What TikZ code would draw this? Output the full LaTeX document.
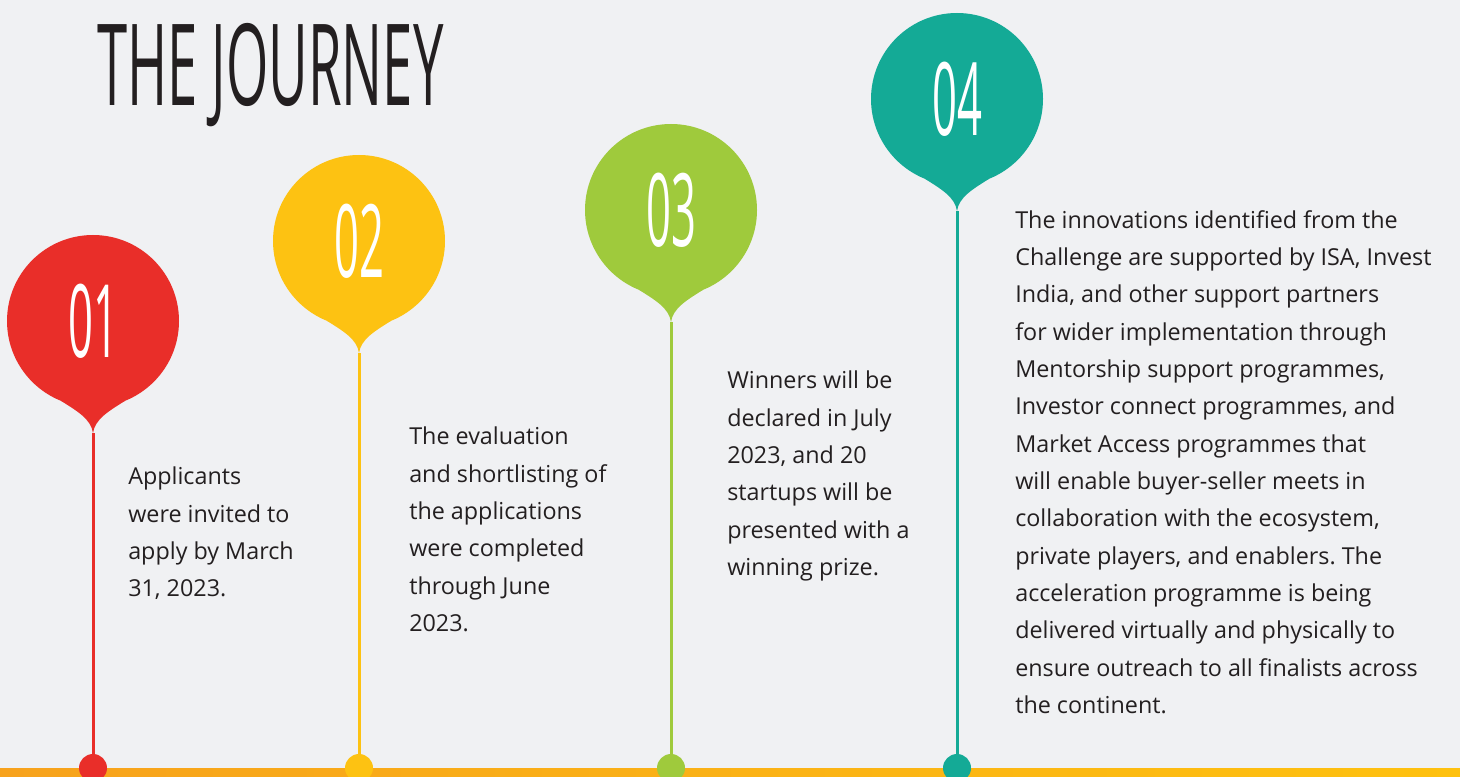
\documentclass[tikz,border=0pt]{standalone}
\usepackage{fontspec}
\setmainfont{Open Sans}
\newfontfamily\titlefont[FakeStretch=0.48]{Open Sans}
\newfontfamily\numfont[FakeStretch=0.43]{Open Sans}
\usetikzlibrary{positioning}
\frenchspacing

\definecolor{bgcol}{HTML}{F0F1F3}
\definecolor{ink}{HTML}{231F20}
\definecolor{pinred}{HTML}{E92E29}
\definecolor{pinyellow}{HTML}{FDC212}
\definecolor{pingreen}{HTML}{9FCA3C}
\definecolor{pinteal}{HTML}{14AA96}
\definecolor{barleft}{HTML}{F7A21C}
\definecolor{barright}{HTML}{FEC10F}

\tikzset{
  balloon/.style={circle, inner sep=0pt, minimum size=129pt, text=white,
    font=\numfont\fontsize{76pt}{76pt}\selectfont},
  knob/.style={circle, inner sep=0pt, minimum size=21pt},
  stemline/.style={line width=2.25pt},
  blurb/.style={anchor=north west, align=left, inner sep=0pt, text=ink,
    font=\fontsize{17.5pt}{28pt}\selectfont}
}

\begin{document}
\begin{tikzpicture}[x=0.75pt, y=0.75pt]
  \useasboundingbox (0,0) rectangle (1460,776);
  \fill[bgcol] (0,0) rectangle (1460,776);

  \node[anchor=base west, inner sep=0pt, text=ink,
    font=\titlefont\fontsize{85pt}{85pt}\selectfont] (title) at (97,670) {THE JOURNEY};

  % bottom bar
  \shade[left color=barleft, right color=barright] (0,0) rectangle (1460,8);

  % pin 01
  \begin{scope}[shift={(93,455)}]
    \node[balloon, fill=pinred] (p1) at (0,0) {01};
    \coordinate (t1) at (0,-112);
    \fill[pinred] (248:86) .. controls (-16,-90) and (-2,-98) .. (t1)
      .. controls (2,-98) and (16,-90) .. (292:86) -- cycle;
  \end{scope}
  \node[knob, fill=pinred] (d1) at (93,8) {};
  \draw[stemline, pinred] (t1) -- (d1);

  % pin 02
  \begin{scope}[shift={(359,535)}]
    \node[balloon, fill=pinyellow] (p2) at (0,0) {02};
    \coordinate (t2) at (0,-112);
    \fill[pinyellow] (248:86) .. controls (-16,-90) and (-2,-98) .. (t2)
      .. controls (2,-98) and (16,-90) .. (292:86) -- cycle;
  \end{scope}
  \node[knob, fill=pinyellow] (d2) at (359,8) {};
  \draw[stemline, pinyellow] (t2) -- (d2);

  % pin 03
  \begin{scope}[shift={(671,566)}]
    \node[balloon, fill=pingreen] (p3) at (0,0) {03};
    \coordinate (t3) at (0,-112);
    \fill[pingreen] (248:86) .. controls (-16,-90) and (-2,-98) .. (t3)
      .. controls (2,-98) and (16,-90) .. (292:86) -- cycle;
  \end{scope}
  \node[knob, fill=pingreen] (d3) at (671,8) {};
  \draw[stemline, pingreen] (t3) -- (d3);

  % pin 04
  \begin{scope}[shift={(957,677)}]
    \node[balloon, fill=pinteal] (p4) at (0,0) {04};
    \coordinate (t4) at (0,-112);
    \fill[pinteal] (248:86) .. controls (-16,-90) and (-2,-98) .. (t4)
      .. controls (2,-98) and (16,-90) .. (292:86) -- cycle;
  \end{scope}
  \node[knob, fill=pinteal] (d4) at (957,8) {};
  \draw[stemline, pinteal] (t4) -- (d4);

  \node[blurb] (txt1) at (128,309) {Applicants\\were invited to\\apply by March\\31, 2023.};
  \node[blurb] (txt2) at (409,349) {The evaluation\\and shortlisting of\\the applications\\were completed\\through June\\2023.};
  \node[blurb] (txt3) at (727,405) {Winners will be\\declared in July\\2023, and 20\\startups will be\\presented with a\\winning prize.};
  \node[blurb] (txt4) at (1015,566) {The innovations identified from the\\Challenge are supported by ISA, Invest\\India, and other support partners\\for wider implementation through\\Mentorship support programmes,\\Investor connect programmes, and\\Market Access programmes that\\will enable buyer-seller meets in\\collaboration with the ecosystem,\\private players, and enablers. The\\acceleration programme is being\\delivered virtually and physically to\\ensure outreach to all finalists across\\the continent.};
\end{tikzpicture}
\end{document}
